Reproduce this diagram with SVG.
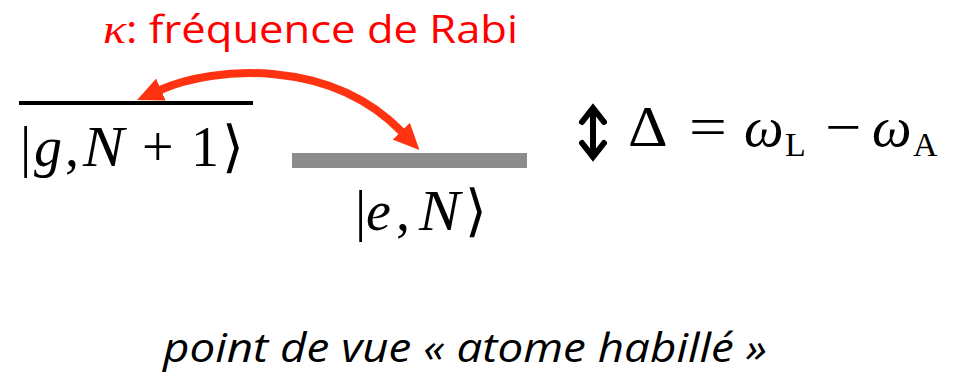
<svg xmlns="http://www.w3.org/2000/svg" width="961" height="376" viewBox="0 0 961 376">
<defs>
<style>
.m{font-family:"Liberation Serif","DejaVu Serif",serif;font-size:56px;fill:#000}
.i{font-style:italic}
.sub{font-size:34px}
.red{font-family:"Open Sans","Liberation Sans",sans-serif;font-size:38px;fill:#ff0000}
.cap{font-family:"Open Sans","Liberation Sans",sans-serif;font-size:40px;font-style:italic;fill:#000}
</style>
<marker id="ah" viewBox="0 0 26 24" refX="1" refY="12" markerWidth="26" markerHeight="24" orient="auto-start-reverse" markerUnits="userSpaceOnUse">
<path d="M0,0 L26,12 L0,24 z" fill="#ff3312"/>
</marker>
</defs>
<rect width="961" height="376" fill="#fff"/>
<g id="label-kappa">
<text x="103" y="43" class="red" textLength="415" lengthAdjust="spacingAndGlyphs"><tspan font-family="Liberation Serif,serif" font-style="italic" font-size="42">κ</tspan>: fréquence de Rabi</text>
</g>
<g id="level-g">
<line x1="19" y1="103" x2="253" y2="103" stroke="#000" stroke-width="4"/>
<text class="m" y="166"><tspan x="20">|</tspan><tspan x="34" class="i">g</tspan><tspan x="65">,</tspan></text>
<text class="m i" transform="translate(83,166) scale(1.1,1)">N</text>
<text class="m" y="166"><tspan x="142">+</tspan><tspan x="191">1</tspan><tspan x="222">⟩</tspan></text>
</g>
<g id="level-e">
<rect x="292" y="153" width="235" height="15" fill="#8c8c8c"/>
<text class="m" y="230"><tspan x="355">|</tspan><tspan x="366" class="i">e</tspan><tspan x="396">,</tspan></text>
<text class="m i" transform="translate(419,230) scale(1.1,1)">N</text>
<text class="m" x="465" y="230">⟩</text>
</g>
<g id="detuning">
<path d="M593,112 V153" stroke="#000" stroke-width="6" fill="none"/>
<path d="M582,122 L593,108 L604,122 M582,143 L593,157 L604,143" stroke="#000" stroke-width="6" fill="none" stroke-linejoin="miter" stroke-linecap="round"/>
<text class="m" transform="translate(628,146) scale(1.1,1)">Δ</text>
<text class="m" transform="translate(689,146) scale(1.2,1)">=</text>
<text class="m i" x="744" y="146">ω</text>
<text class="m sub" x="785" y="156">L</text>
<text class="m" transform="translate(825,146) scale(1.15,1)">−</text>
<text class="m i" x="872" y="146">ω</text>
<text class="m sub" x="913" y="156">A</text>
</g>
<g id="connectors">
<path d="M160,90 C215,66 330,58 402,132" fill="none" stroke="#ff3312" stroke-width="8" marker-start="url(#ah)" marker-end="url(#ah)"/>
</g>
<g id="caption">
<text x="163" y="362" class="cap" textLength="604" lengthAdjust="spacingAndGlyphs">point de vue « atome habillé »</text>
</g>
</svg>
